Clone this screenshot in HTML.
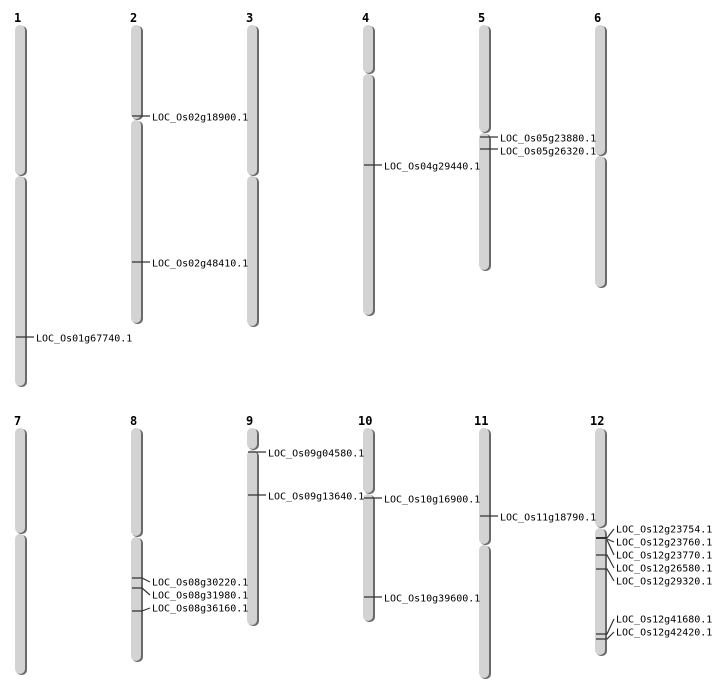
<!DOCTYPE html>
<html><head><meta charset="utf-8"><style>
html,body{margin:0;padding:0;background:#fff;}
svg{display:block;}
text{font-family:"DejaVu Sans Mono","Liberation Mono",monospace;font-size:10px;fill:#000;}
.n{font-weight:bold;font-size:12px;}
.s{fill:#6a6a6a;}
.c{fill:#d3d3d3;}
line,polyline{stroke:#333;stroke-width:1.2;fill:none;}
</style></head><body>
<svg width="712" height="700" viewBox="0 0 712 700" xmlns="http://www.w3.org/2000/svg">
<text class="n" x="14" y="22">1</text>
<text class="n" x="130" y="22">2</text>
<text class="n" x="246" y="22">3</text>
<text class="n" x="362" y="22">4</text>
<text class="n" x="478" y="22">5</text>
<text class="n" x="594" y="22">6</text>
<text class="n" x="14" y="425">7</text>
<text class="n" x="130" y="425">8</text>
<text class="n" x="246" y="425">9</text>
<text class="n" x="358" y="425">10</text>
<text class="n" x="474" y="425">11</text>
<text class="n" x="590" y="425">12</text>

<rect class="s" x="16" y="26" width="11" height="150" rx="5"/><rect class="c" x="15" y="25" width="10" height="150" rx="5"/>
<rect class="s" x="16" y="177" width="11" height="210" rx="5"/><rect class="c" x="15" y="176" width="10" height="210" rx="5"/>
<rect class="s" x="132" y="26" width="11" height="94" rx="5"/><rect class="c" x="131" y="25" width="10" height="94" rx="5"/>
<rect class="s" x="132" y="121" width="11" height="203" rx="5"/><rect class="c" x="131" y="120" width="10" height="203" rx="5"/>
<rect class="s" x="248" y="26" width="11" height="150" rx="5"/><rect class="c" x="247" y="25" width="10" height="150" rx="5"/>
<rect class="s" x="248" y="177" width="11" height="150" rx="5"/><rect class="c" x="247" y="176" width="10" height="150" rx="5"/>
<rect class="s" x="364" y="26" width="11" height="48" rx="5"/><rect class="c" x="363" y="25" width="10" height="48" rx="5"/>
<rect class="s" x="364" y="75" width="11" height="241" rx="5"/><rect class="c" x="363" y="74" width="10" height="241" rx="5"/>
<rect class="s" x="480" y="26" width="11" height="107" rx="5"/><rect class="c" x="479" y="25" width="10" height="107" rx="5"/>
<rect class="s" x="480" y="134" width="11" height="137" rx="5"/><rect class="c" x="479" y="133" width="10" height="137" rx="5"/>
<rect class="s" x="596" y="26" width="11" height="130" rx="5"/><rect class="c" x="595" y="25" width="10" height="130" rx="5"/>
<rect class="s" x="596" y="157" width="11" height="131" rx="5"/><rect class="c" x="595" y="156" width="10" height="131" rx="5"/>
<rect class="s" x="16" y="429" width="11" height="105" rx="5"/><rect class="c" x="15" y="428" width="10" height="105" rx="5"/>
<rect class="s" x="16" y="535" width="11" height="140" rx="5"/><rect class="c" x="15" y="534" width="10" height="140" rx="5"/>
<rect class="s" x="132" y="429" width="11" height="108" rx="5"/><rect class="c" x="131" y="428" width="10" height="108" rx="5"/>
<rect class="s" x="132" y="538" width="11" height="124" rx="5"/><rect class="c" x="131" y="537" width="10" height="124" rx="5"/>
<rect class="s" x="248" y="429" width="11" height="21" rx="5"/><rect class="c" x="247" y="428" width="10" height="21" rx="5"/>
<rect class="s" x="248" y="451" width="11" height="175" rx="5"/><rect class="c" x="247" y="450" width="10" height="175" rx="5"/>
<rect class="s" x="364" y="429" width="11" height="65" rx="5"/><rect class="c" x="363" y="428" width="10" height="65" rx="5"/>
<rect class="s" x="364" y="495" width="11" height="127" rx="5"/><rect class="c" x="363" y="494" width="10" height="127" rx="5"/>
<rect class="s" x="480" y="429" width="11" height="116" rx="5"/><rect class="c" x="479" y="428" width="10" height="116" rx="5"/>
<rect class="s" x="480" y="546" width="11" height="133" rx="5"/><rect class="c" x="479" y="545" width="10" height="133" rx="5"/>
<rect class="s" x="596" y="429" width="11" height="99" rx="5"/><rect class="c" x="595" y="428" width="10" height="99" rx="5"/>
<rect class="s" x="596" y="529" width="11" height="127" rx="5"/><rect class="c" x="595" y="528" width="10" height="127" rx="5"/>

<line x1="16" y1="337" x2="34" y2="337"/><text x="36" y="341.5">LOC_Os01g67740.1</text>
<line x1="132" y1="116" x2="150" y2="116"/><text x="152" y="120.5">LOC_Os02g18900.1</text>
<line x1="132" y1="262" x2="150" y2="262"/><text x="152" y="266.5">LOC_Os02g48410.1</text>
<line x1="364" y1="165" x2="382" y2="165"/><text x="384" y="169.5">LOC_Os04g29440.1</text>
<line x1="480" y1="137" x2="498" y2="137"/><text x="500" y="141.5">LOC_Os05g23880.1</text>
<line x1="480" y1="149" x2="498" y2="149"/><text x="500" y="154.5">LOC_Os05g26320.1</text>

<polyline points="132,578 142,578 150,582"/><text x="152" y="585.5">LOC_Os08g30220.1</text>
<polyline points="132,588 142,588 150,595"/><text x="152" y="598.5">LOC_Os08g31980.1</text>
<polyline points="132,611 142,611 150,608"/><text x="152" y="611.5">LOC_Os08g36160.1</text>
<line x1="248" y1="452" x2="266" y2="452"/><text x="268" y="456.5">LOC_Os09g04580.1</text>
<line x1="248" y1="495" x2="266" y2="495"/><text x="268" y="499.5">LOC_Os09g13640.1</text>
<line x1="364" y1="498" x2="382" y2="498"/><text x="384" y="502.5">LOC_Os10g16900.1</text>
<line x1="364" y1="597" x2="382" y2="597"/><text x="384" y="601.5">LOC_Os10g39600.1</text>
<line x1="480" y1="516" x2="498" y2="516"/><text x="500" y="520.5">LOC_Os11g18790.1</text>

<line x1="596" y1="538" x2="607" y2="538" style="stroke-width:2"/>
<line x1="607" y1="538" x2="614" y2="529"/><text x="616" y="532.5">LOC_Os12g23754.1</text>
<line x1="607" y1="539" x2="614" y2="542"/><text x="616" y="545.5">LOC_Os12g23760.1</text>
<line x1="607" y1="540" x2="614" y2="555"/><text x="616" y="558.5">LOC_Os12g23770.1</text>
<polyline points="596,555 607,555 614,568"/><text x="616" y="571.5">LOC_Os12g26580.1</text>
<polyline points="596,569 607,569 614,581"/><text x="616" y="584.5">LOC_Os12g29320.1</text>
<polyline points="596,634 607,634 614,619"/><text x="616" y="622.5">LOC_Os12g41680.1</text>
<polyline points="596,639 607,639 614,632"/><text x="616" y="635.5">LOC_Os12g42420.1</text>
</svg>
</body></html>
